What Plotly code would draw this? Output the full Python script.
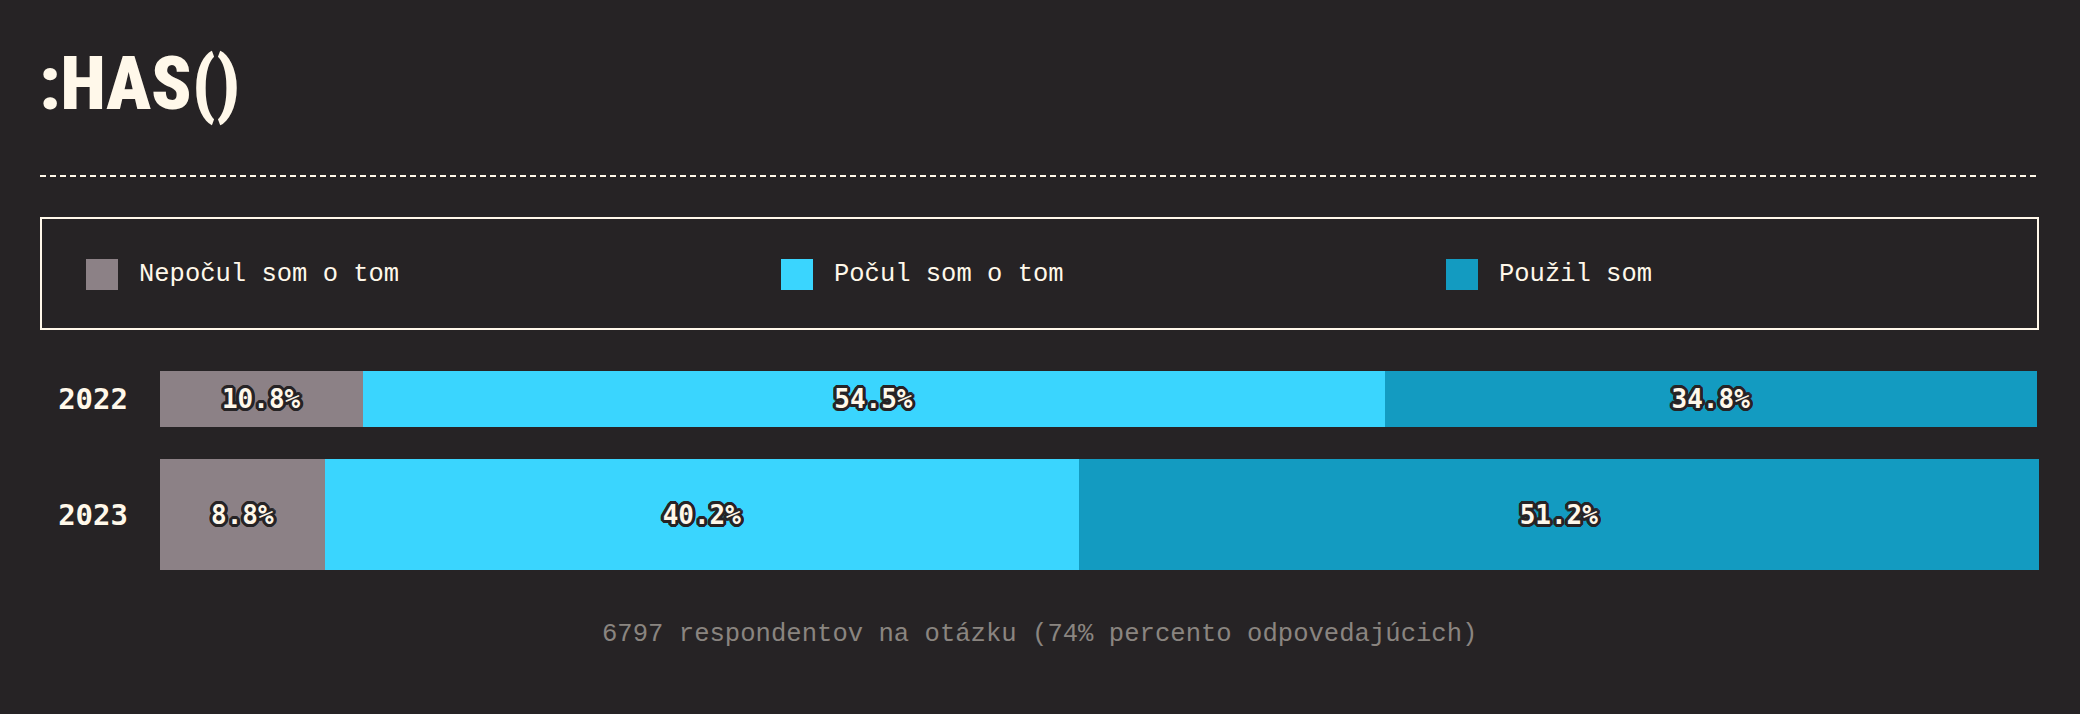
import plotly.graph_objects as go

# ---- data ----
years = ["2022", "2023"]
categories = ["Nepočul som o tom", "Počul som o tom", "Použil som"]
nepocul = [10.8, 8.8]
pocul = [54.5, 40.2]
pouzil = [34.8, 51.2]
title_text = ":HAS()"
footer_text = "6797 respondentov na otázku (74% percento odpovedajúcich)"

# ---- style ----
BG = "#262325"
CREAM = "#fff8ea"
GRAY_TXT = "#8a8580"
colors = ["#8c8186", "#3ad5fe", "#139bc1"]
bar_widths = [0.48, 0.96]

W, H = 2080, 714
ML, MR, MT, MB = 160, 41, 340, 134
PW, PH = W - ML - MR, H - MT - MB


def px(x):
    return (x - ML) / PW


def py(y):
    return (H - MB - y) / PH


outline = ", ".join(
    f"{dx}px {dy}px 0 {BG}"
    for dx, dy in [(3, 0), (-3, 0), (0, 3), (0, -3), (2, 2), (-2, -2), (2, -2), (-2, 2),
                   (1, 3), (3, 1), (-1, 3), (-3, 1), (1, -3), (3, -1), (-1, -3), (-3, -1)]
)

fig = go.Figure()
for name, vals, col in zip(categories, [nepocul, pocul, pouzil], colors):
    fig.add_trace(go.Bar(
        y=years, x=vals, name=name, orientation="h",
        width=bar_widths,
        marker=dict(color=col, line=dict(width=0)),
        texttemplate="%{x:.1f}%",
        textposition="inside",
        insidetextanchor="middle",
        textangle=0,
        constraintext="none",
        textfont=dict(family="DejaVu Sans Mono", size=26, color=CREAM,
                      weight="bold", shadow=outline),
        hoverinfo="skip",
        showlegend=False,
    ))

shapes = []
annotations = []

# dashed separator
shapes.append(dict(type="line", xref="paper", yref="paper",
                   x0=px(40), x1=px(2039), y0=py(176), y1=py(176),
                   line=dict(color=CREAM, width=2, dash="6px,4px")))
# legend box
shapes.append(dict(type="rect", xref="paper", yref="paper",
                   x0=px(41), x1=px(2038), y0=py(218), y1=py(329),
                   line=dict(color=CREAM, width=2), fillcolor="rgba(0,0,0,0)"))

legend_x = [86, 781, 1446]
for name, col, lx in zip(categories, colors, legend_x):
    shapes.append(dict(type="rect", xref="paper", yref="paper",
                       x0=px(lx), x1=px(lx + 32), y0=py(259), y1=py(290),
                       line=dict(width=0), fillcolor=col))
    annotations.append(dict(text=name, xref="paper", yref="paper",
                            x=px(lx + 51), y=py(274), xanchor="left", yanchor="middle",
                            showarrow=False,
                            font=dict(family="Liberation Mono", size=25.5, color=CREAM)))

# title
annotations.append(dict(text=title_text, xref="paper", yref="paper",
                        x=px(37), y=py(83), xanchor="left", yanchor="middle",
                        showarrow=False,
                        font=dict(family="Roboto Condensed, DejaVu Sans Condensed",
                                  size=74, color=CREAM, weight=900)))
# footer
annotations.append(dict(text=footer_text, xref="paper", yref="paper",
                        x=px(1039), y=py(634), xanchor="center", yanchor="middle",
                        showarrow=False,
                        font=dict(family="Liberation Mono", size=25.6, color=GRAY_TXT)))

fig.update_layout(
    width=W, height=H,
    margin=dict(l=ML, r=MR, t=MT, b=MB, pad=0),
    paper_bgcolor=BG, plot_bgcolor=BG,
    barmode="stack",
    showlegend=False,
    xaxis=dict(range=[0, 100.2], visible=False, fixedrange=True),
    yaxis=dict(type="category", categoryorder="array", categoryarray=years,
               range=[1.564, -0.507], showgrid=False, zeroline=False, showline=False,
               ticks="", ticklabelstandoff=31,
               tickfont=dict(family="DejaVu Sans Mono", size=29, color=CREAM, weight="bold"),
               fixedrange=True),
    shapes=shapes,
    annotations=annotations,
)

fig.write_html("out.html", config={"displayModeBar": False})
